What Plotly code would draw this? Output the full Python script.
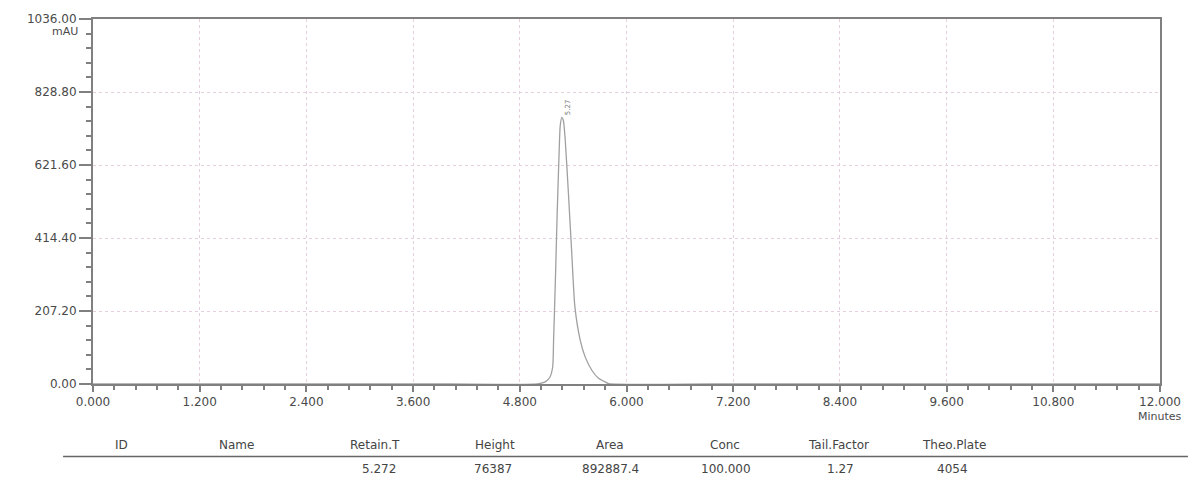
import plotly.graph_objects as go

# ---- data ----
time_min = [0.0, 1.0, 2.0, 3.0, 4.0, 5.0, 5.086, 5.14, 5.17, 5.18, 5.20, 5.22, 5.24, 5.255,
            5.273, 5.29, 5.31, 5.35, 5.385, 5.42, 5.48, 5.535, 5.61, 5.685, 5.76, 5.80,
            7.0, 9.0, 11.0, 12.0]
absorb_mau = [0, 0, 0, 0, 0, 0.5, 6, 20, 49, 124, 293, 481, 640, 734,
              757, 748, 696, 527, 368, 218, 124, 77, 39, 16, 6, 1,
              0, 0, 0, 0]

x_tick_vals = [0.0, 1.2, 2.4, 3.6, 4.8, 6.0, 7.2, 8.4, 9.6, 10.8, 12.0]
x_tick_labels = ["0.000", "1.200", "2.400", "3.600", "4.800", "6.000", "7.200",
                 "8.400", "9.600", "10.800", "12.000"]
y_tick_vals = [0.0, 207.2, 414.4, 621.6, 828.8, 1036.0]
y_tick_labels = ["0.00", "207.20", "414.40", "621.60", "828.80", "1036.00"]

peak_label = "5.27"
peak_time = 5.273
peak_height = 757

table_headers = ["ID", "Name", "Retain.T", "Height", "Area", "Conc", "Tail.Factor", "Theo.Plate"]
table_values = ["", "", "5.272", "76387", "892887.4", "100.000", "1.27", "4054"]

# ---- layout helpers (pixel geometry of the reference) ----
W, H = 1193, 481
L, R, T, B = 93, 31, 16, 97
pw, ph = W - L - R, H - T - B

def px_x(p):
    return (p - L) / pw

def px_y(p):
    return (H - B - p) / ph

header_x = [122, 237, 376, 496, 611, 726, 840, 956]
value_x = [122, 237, 380, 494, 611, 727, 842, 954]

FONT = "DejaVu Sans, Liberation Sans, Arial"
TXT = "#4a4a4a"
AX = "#808080"
GRID = "#e4cfde"

fig = go.Figure()
fig.add_trace(go.Scatter(x=time_min, y=absorb_mau, mode="lines",
                         line=dict(color="#a0a0a0", width=1.3, shape="spline", smoothing=0.6),
                         hoverinfo="skip", showlegend=False))

fig.add_annotation(x=peak_time, y=peak_height, text=peak_label, textangle=-90,
                   showarrow=False, xanchor="left", yanchor="bottom", xshift=0, yshift=0,
                   font=dict(family=FONT, size=7, color="#777777"))

fig.add_annotation(xref="paper", yref="paper", x=px_x(80), y=px_y(29), text="mAU",
                   showarrow=False, xanchor="right", yanchor="middle",
                   font=dict(family=FONT, size=11, color=TXT))
fig.add_annotation(xref="x", yref="paper", x=12.0, y=px_y(417), text="Minutes",
                   showarrow=False, xanchor="center", yanchor="middle",
                   font=dict(family=FONT, size=11, color=TXT))

for cx, t in zip(header_x, table_headers):
    fig.add_annotation(xref="paper", yref="paper", x=px_x(cx), y=px_y(446), text=t,
                       showarrow=False, xanchor="center", yanchor="middle",
                       font=dict(family=FONT, size=12, color="#444444"))
for cx, t in zip(value_x, table_values):
    if t:
        fig.add_annotation(xref="paper", yref="paper", x=px_x(cx), y=px_y(470), text=t,
                           showarrow=False, xanchor="center", yanchor="middle",
                           font=dict(family=FONT, size=12, color="#444444"))

fig.add_shape(type="line", xref="paper", yref="paper", x0=px_x(63), x1=px_x(1190),
              y0=px_y(457), y1=px_y(457), line=dict(color="#666666", width=1.5))

fig.update_xaxes(range=[0, 12], tickmode="array", tickvals=x_tick_vals, ticktext=x_tick_labels,
                 showline=True, linecolor=AX, linewidth=2, mirror=True,
                 ticks="outside", ticklen=6, tickcolor=AX, tickwidth=1.5,
                 showgrid=True, gridcolor=GRID, griddash="dot", gridwidth=1,
                 zeroline=False,
                 minor=dict(tickmode="linear", tick0=0, dtick=0.24, ticks="outside",
                            ticklen=4, tickcolor=AX, tickwidth=1.5, showgrid=False),
                 tickfont=dict(family=FONT, size=12, color=TXT))
fig.update_yaxes(range=[0, 1036], tickmode="array", tickvals=y_tick_vals, ticktext=y_tick_labels,
                 showline=True, linecolor=AX, linewidth=2, mirror=True,
                 ticks="outside", ticklen=12, tickcolor=AX, tickwidth=1.5,
                 showgrid=True, gridcolor=GRID, griddash="dot", gridwidth=1,
                 zeroline=False,
                 minor=dict(tickmode="linear", tick0=0, dtick=41.44, ticks="outside",
                            ticklen=5, tickcolor=AX, tickwidth=1.5, showgrid=False),
                 tickfont=dict(family=FONT, size=12, color=TXT))

fig.update_layout(width=W, height=H, margin=dict(l=L, r=R, t=T, b=B),
                  paper_bgcolor="white", plot_bgcolor="white")

fig.write_html("out.html")
